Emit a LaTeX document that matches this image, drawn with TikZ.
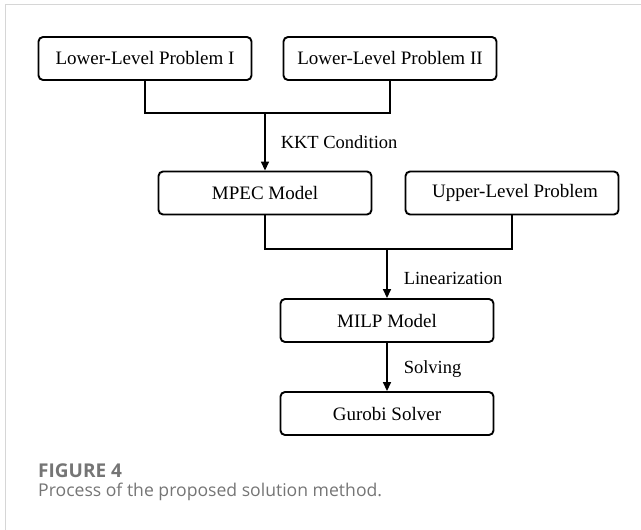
\documentclass[tikz,border=0pt]{standalone}
\usepackage{fontspec}
\setmainfont{Liberation Serif}
\newfontfamily\capfont{Open Sans}
\usetikzlibrary{arrows.meta}

\definecolor{framegray}{HTML}{D6D6D6}
\definecolor{capgray}{HTML}{757575}

\tikzset{
	block/.style={draw, rounded corners=4.5pt, line width=1.9pt, minimum width=213pt,
		minimum height=43pt, inner sep=0pt, font=\fontsize{19}{22}\selectfont},
	link/.style={line width=1.5pt},
	flow/.style={link, -{Triangle[length=9pt,width=8pt]}},
	lab/.style={font=\fontsize{18.5}{22}\selectfont, inner sep=0pt},
}

\begin{document}
\begin{tikzpicture}[x=1pt, y=-1pt]
		\useasboundingbox (0,0) rectangle (641,530);
		\clip (0,0) rectangle (641,530);
		\draw[framegray, line width=1.5pt] (5.5,4.5) rectangle (700,600);
		% blocks
		\node[block] (lowerI) at (145,58.5) {Lower-Level Problem I};
		\node[block] (lowerII) at (390,58.5) {Lower-Level Problem II};
		\node[block] (mpec) at (265,193) {MPEC Model};
		\node[block] (upper) at (512,193) {\hspace{6pt}Upper-Level Problem};
		\node[block] (milp) at (387,320.5) {MILP Model};
		\node[block] (gurobi) at (387,413.5) {Gurobi Solver};
		\coordinate (kktjoin) at (265,113);
		\coordinate (linjoin) at (387,249);
		% connectors
		\draw[link] (lowerI.south) |- (kktjoin) -| (lowerII.south);
		\draw[flow] (kktjoin) -- node[lab, anchor=west, xshift=15pt] {KKT Condition} (mpec.north);
		\draw[link] (mpec.south) |- (linjoin) -| (upper.south);
		\draw[flow] (linjoin) -- node[lab, anchor=west, xshift=16pt, yshift=-5pt] {Linearization} (milp.north);
		\draw[flow] (milp.south) -- node[lab, anchor=west, xshift=16pt, yshift=-2pt] {Solving} (gurobi.north);
		% caption
		\node[anchor=west, inner sep=0pt, text=capgray, font=\capfont\bfseries\fontsize{19}{22}\selectfont] (capnum) at (38,471) {FIGURE 4};
		\node[anchor=west, inner sep=0pt, text=capgray, font=\capfont\fontsize{17.6}{21}\selectfont] (captext) at (38,492) {Process of the proposed solution method.};
\end{tikzpicture}
\end{document}
